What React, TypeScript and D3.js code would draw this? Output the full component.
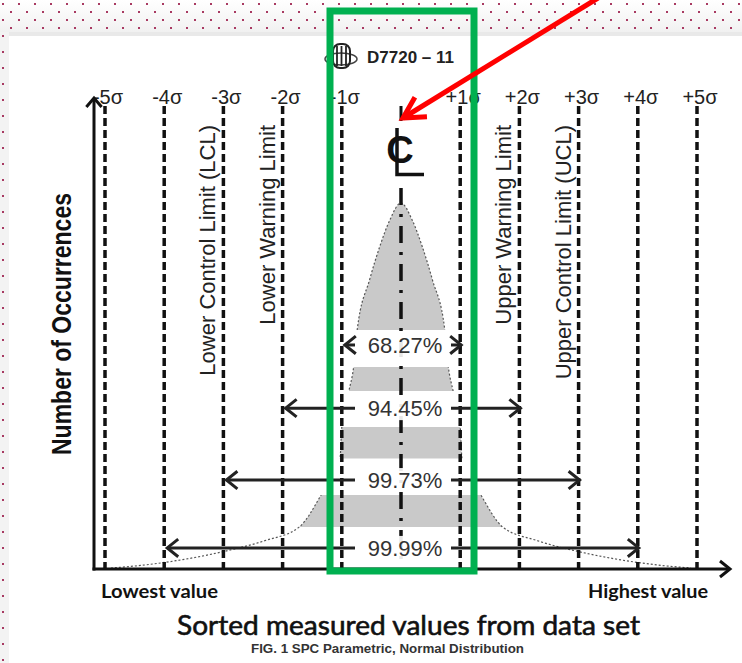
import React from 'react';
import * as d3 from 'd3';

// sigma grid
const sigmaLevels = [-5, -4, -3, -2, -1, 1, 2, 3, 4, 5];
const sigmaLabels = ['-5σ', '-4σ', '-3σ', '-2σ', '-1σ', '+1σ', '+2σ', '+3σ', '+4σ', '+5σ'];

// control / warning limits
const limitSigmas = [-3, -2, 2, 3];
const limitLabels = ['Lower Control Limit (LCL)', 'Lower Warning Limit', 'Upper Warning Limit', 'Upper Control Limit (UCL)'];

// coverage arrows (± n sigma)
const coverageSpans = [1, 2, 3, 4];
const coverageLabels = ['68.27%', '94.45%', '99.73%', '99.99%'];

// bell outline (sigma, fraction of peak)
const bellSigma = [-4.9, -4.4, -3.8, -3.0, -2.3, -1.72, -1.35, -1.03, -1.0, -0.88, -0.8, -0.74, -0.53, -0.36, -0.19, 0, 0.19, 0.36, 0.53, 0.74, 0.8, 0.88, 1.0, 1.03, 1.35, 1.72, 2.3, 3.0, 3.8, 4.4, 4.9];
const bellHeight = [0, 0.007, 0.02, 0.045, 0.075, 0.112, 0.2, 0.3, 0.386, 0.485, 0.551, 0.652, 0.79, 0.88, 0.953, 1, 0.953, 0.88, 0.79, 0.652, 0.551, 0.485, 0.386, 0.3, 0.2, 0.112, 0.075, 0.045, 0.02, 0.007, 0];

const FONT = '"Liberation Sans", Arial, sans-serif';

const App = () => {
  const W = 742;
  const H = 663;

  const x = d3.scaleLinear().domain([-5, 5]).range([105, 697]);
  const y = d3.scaleLinear().domain([0, 1]).range([568, 203]);

  const pts: [number, number][] = bellSigma.map((s, i) => [s, bellHeight[i]]);
  const area = d3.area<[number, number]>()
    .x(d => x(d[0]))
    .y0(y(0))
    .y1(d => y(d[1]))
    .curve(d3.curveMonotoneX);
  const line = d3.line<[number, number]>()
    .x(d => x(d[0]))
    .y(d => y(d[1]))
    .curve(d3.curveMonotoneX);

  // grey slices of the bell, white gaps between hold the arrows
  const bands = [[0.652, 1.05], [0.485, 0.551], [0.3, 0.386], [0.112, 0.2]];
  const rowLevels = [0.611, 0.438, 0.241, 0.055];

  const cx = x(0);
  const axisY = 569;
  const axisX = 94;
  const lineTop = 106;

  const chevronH = (tx: number, ty: number, dir: number, s = 11) =>
    `M${tx - dir * s},${ty - s * 0.8}L${tx},${ty}L${tx - dir * s},${ty + s * 0.8}`;
  const chevronV = (tx: number, ty: number, s = 9) =>
    `M${tx - s * 0.85},${ty + s}L${tx},${ty}L${tx + s * 0.85},${ty + s}`;

  // red callout arrow
  const tail = [598, -2];
  const tip = [403, 118];
  const ang = Math.atan2(tail[1] - tip[1], tail[0] - tip[0]);
  const headLen = 24;
  const h1 = [tip[0] + headLen * Math.cos(ang + 0.5), tip[1] + headLen * Math.sin(ang + 0.5)];
  const h2 = [tip[0] + headLen * Math.cos(ang - 0.5), tip[1] + headLen * Math.sin(ang - 0.5)];

  return (
    <svg width={W} height={H} style={{ position: 'absolute', left: 0, top: 0, display: 'block', background: '#fff' }}>
      <defs>
        <pattern id="dots" width="16" height="16" patternUnits="userSpaceOnUse">
          <rect x="2" y="3" width="2" height="2" fill="#a83a62" />
          <rect x="10" y="11" width="2" height="2" fill="#a83a62" />
        </pattern>
        <linearGradient id="topFade" x1="0" y1="0" x2="0" y2="1">
          <stop offset="0" stopColor="#ffffff" />
          <stop offset="1" stopColor="#f1f1f1" />
        </linearGradient>
        <clipPath id="bellBands">
          {bands.map((b, i) => (
            <rect key={i} x={0} y={y(b[1])} width={W} height={y(b[0]) - y(b[1])} />
          ))}
        </clipPath>
        <clipPath id="outlineBands">
          {bands.map((b, i) => (
            <rect key={i} x={0} y={y(b[1])} width={W} height={y(b[0]) - y(b[1])} />
          ))}
          <rect x={0} y={y(0.112)} width={W} height={y(0) - y(0.112)} />
        </clipPath>
      </defs>

      {/* page background */}
      <rect x={0} y={0} width={W} height={H} fill="#fff" />
      <rect x={0} y={0} width={W} height={32} fill="url(#topFade)" />
      <rect x={0} y={32} width={W} height={4} fill="#e9e9e9" />
      <rect x={0} y={32} width={9} height={H - 32} fill="#f3f3f3" />
      <rect x={0} y={0} width={W} height={32} fill="url(#dots)" />
      <rect x={0} y={32} width={9} height={H - 32} fill="url(#dots)" />

      {/* header */}
      <g>
        <ellipse cx={341} cy={59} rx={16} ry={6} fill="none" stroke="#444" strokeWidth={1.5} />
        <rect x={333} y={44} width={17} height={24} rx={7} fill="none" stroke="#222" strokeWidth={2} />
        {[337, 341.5, 346].map(v => (
          <line key={v} x1={v} x2={v} y1={46} y2={66} stroke="#222" strokeWidth={1.8} />
        ))}
        <text x={367} y={63} fontFamily={FONT} fontWeight="bold" fontSize={17} fill="#222">D7720 – 11</text>
      </g>

      {/* bell */}
      <path d={area(pts) || ''} fill="#c9c9c9" clipPath="url(#bellBands)" />
      <path d={line(pts) || ''} fill="none" stroke="#555" strokeWidth={1.2} strokeDasharray="2,2" clipPath="url(#outlineBands)" />

      {/* sigma lines */}
      {sigmaLevels.map((s, i) => (
        <g key={s}>
          <line x1={x(s)} x2={x(s)} y1={lineTop} y2={axisY - 1} stroke="#111" strokeWidth={3.5} strokeDasharray="8,4" />
          <text x={x(s) + 3} y={104} textAnchor="middle" fontFamily={FONT} fontSize={20} fill="#222">{sigmaLabels[i]}</text>
        </g>
      ))}

      {/* centre line */}
      <line x1={cx} x2={cx} y1={lineTop} y2={121} stroke="#111" strokeWidth={3} />
      <line x1={cx} x2={cx} y1={188} y2={axisY - 1} stroke="#111" strokeWidth={3.5} strokeDasharray="17,9,3,9" />
      <text x={400} y={163} textAnchor="middle" fontFamily={FONT} fontWeight="bold" fontSize={38} fill="#111">C</text>
      <path d="M397,128V174.5H424" fill="none" stroke="#111" strokeWidth={3.5} />

      {/* limit labels */}
      {limitSigmas.map((s, i) => (
        <text key={s} transform={`translate(${x(s) - 8},125) rotate(-90)`} textAnchor="end"
          fontFamily={FONT} fontSize={22} fill="#222">{limitLabels[i]}</text>
      ))}

      {/* coverage arrows */}
      {coverageSpans.map((n, i) => {
        const yy = y(rowLevels[i]);
        const l = x(-n) + 3;
        const r = x(n) + 1;
        const gapL = cx - 46;
        const gapR = cx + 50;
        return (
          <g key={n}>
            {gapL > l && <line x1={l} x2={gapL} y1={yy} y2={yy} stroke="#222" strokeWidth={3} />}
            {gapR < r && <line x1={gapR} x2={r} y1={yy} y2={yy} stroke="#222" strokeWidth={3} />}
            <path d={chevronH(l, yy, -1)} fill="none" stroke="#222" strokeWidth={3} />
            <path d={chevronH(r, yy, 1)} fill="none" stroke="#222" strokeWidth={3} />
            <rect x={cx - 34} y={yy - 12} width={76} height={24} fill="#fff" opacity={0.9} />
            <text x={cx + 4} y={yy + 8} textAnchor="middle" fontFamily={FONT} fontSize={22} fill="#333">{coverageLabels[i]}</text>
          </g>
        );
      })}

      {/* axes */}
      <line x1={axisX} x2={axisX} y1={axisY + 1.5} y2={98} stroke="#111" strokeWidth={3} />
      <path d={chevronV(axisX, 98)} fill="none" stroke="#111" strokeWidth={3} />
      <line x1={axisX - 1.5} x2={730} y1={axisY} y2={axisY} stroke="#111" strokeWidth={3} />
      <path d={chevronH(730, axisY, 1, 10)} fill="none" stroke="#111" strokeWidth={3} />

      <text transform={`translate(71,324) rotate(-90)`} textAnchor="middle" fontFamily={FONT} fontWeight="bold"
        fontSize={28} textLength={262} lengthAdjust="spacingAndGlyphs" fill="#111">Number of Occurrences</text>
      <text x={101} y={598} fontFamily="Lato, sans-serif" fontWeight="bold" fontSize={19} textLength={117}
        lengthAdjust="spacingAndGlyphs" fill="#111">Lowest value</text>
      <text x={588} y={598} fontFamily="Lato, sans-serif" fontWeight="bold" fontSize={19} textLength={120}
        lengthAdjust="spacingAndGlyphs" fill="#111">Highest value</text>
      <text x={177} y={635} fontFamily="Lato, sans-serif" fontSize={27} textLength={463}
        lengthAdjust="spacingAndGlyphs" fill="#111" stroke="#111" strokeWidth={0.6}>Sorted measured values from data set</text>
      <text x={251} y={653} fontFamily={FONT} fontWeight="bold" fontSize={12} textLength={273}
        lengthAdjust="spacingAndGlyphs" fill="#333">FIG. 1 SPC Parametric, Normal Distribution</text>

      {/* annotation overlays */}
      <rect x={330} y={11} width={144} height={560} fill="none" stroke="#00b050" strokeWidth={7} />
      <line x1={tail[0]} y1={tail[1]} x2={tip[0]} y2={tip[1]} stroke="#ff0000" strokeWidth={5} />
      <path d={`M${h1[0]},${h1[1]}L${tip[0]},${tip[1]}L${h2[0]},${h2[1]}`} fill="none" stroke="#ff0000" strokeWidth={5} />
    </svg>
  );
};

export default App;
